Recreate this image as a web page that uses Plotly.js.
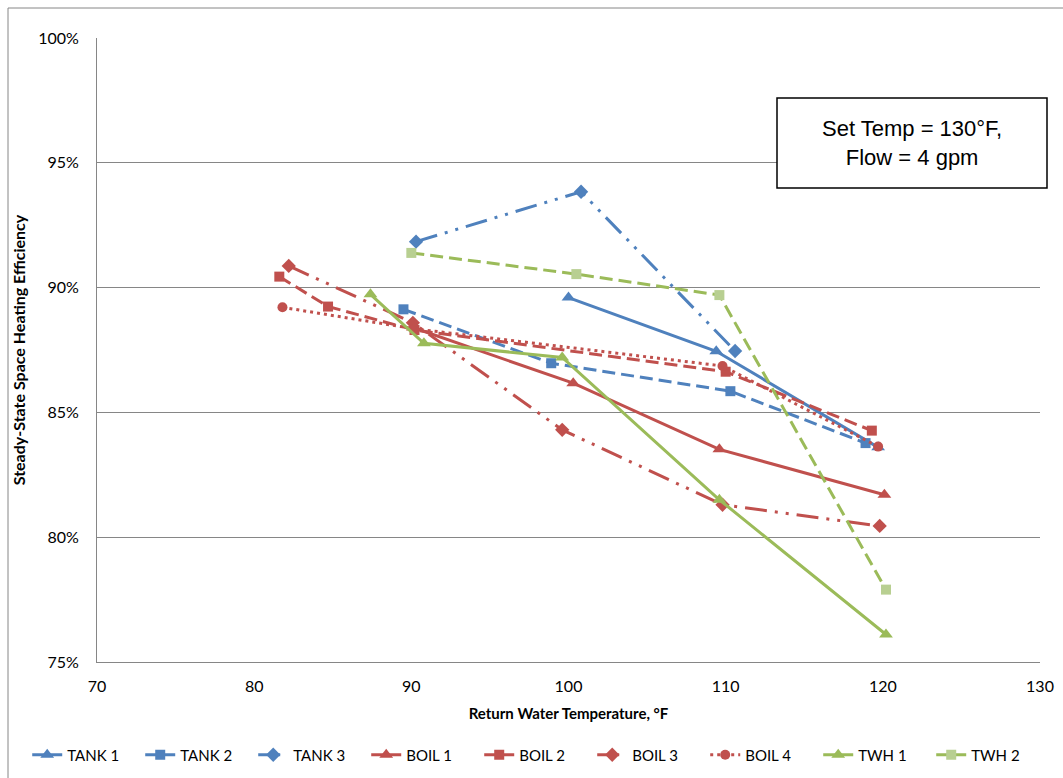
<!DOCTYPE html>
<html>
<head>
<meta charset="utf-8">
<script src="https://cdn.plot.ly/plotly-3.0.1.min.js"></script>
<style>
  html, body { margin: 0; padding: 0; background: #fff; }
  #chart { width: 1063px; height: 778px; }
</style>
</head>
<body>
<div id="chart"></div>
<script>
// ── Data ─────────────────────────────────────────────────────────────
const tank1X = [100.0, 109.4, 119.7];
const tank1Y = [89.6, 87.45, 83.6];

const tank2X = [89.5, 98.9, 110.3, 118.9];
const tank2Y = [89.13, 86.97, 85.85, 83.77];

const tank3X = [90.3, 100.8, 110.6];
const tank3Y = [91.84, 93.84, 87.46];

const boil1X = [90.1, 100.3, 109.6, 120.1];
const boil1Y = [88.4, 86.17, 83.52, 81.7];

const boil2X = [81.6, 84.7, 90.2, 110.0, 119.3];
const boil2Y = [90.44, 89.24, 88.3, 86.63, 84.27];

const boil3X = [82.2, 90.1, 99.6, 109.8, 119.8];
const boil3Y = [90.87, 88.59, 84.3, 81.3, 80.45];

const boil4X = [81.8, 90.2, 109.8, 119.7];
const boil4Y = [89.21, 88.35, 86.86, 83.63];

const twh1X = [87.4, 90.8, 99.6, 109.6, 120.2];
const twh1Y = [89.73, 87.77, 87.2, 81.5, 76.1];

const twh2X = [90.0, 100.5, 109.6, 120.2];
const twh2Y = [91.39, 90.54, 89.7, 77.9];

const xTicks = [70, 80, 90, 100, 110, 120, 130];
const yTicks = [75, 80, 85, 90, 95, 100];

// ── Styling ──────────────────────────────────────────────────────────
const BLUE = '#4f81bd';
const RED = '#c0504d';
const GREEN = '#9bbb59';
const LIGHT_GREEN = '#b8cf91';
const FONT = 'Lato, "Open Sans", sans-serif';

const DASH = '13px,6px';
const DASH_DOT_DOT = '22px,8px,3px,8px,3px,8px';
const DOT = '3px,4px';

const MARKER_SIZE = { 'triangle-up': 12, 'square': 10, 'diamond': 11, 'circle': 10 };

function series(name, x, y, color, dash, symbol, markerColor) {
    return {
        x: x,
        y: y,
        name: name,
        type: 'scatter',
        mode: 'lines+markers',
        line: { color: color, width: 3, dash: dash },
        marker: { symbol: symbol, size: MARKER_SIZE[symbol], color: markerColor || color },
        hovertemplate: name + ': %{x}, %{y:.1f}%<extra></extra>'
    };
}

const traces = [
    series('TANK 1', tank1X, tank1Y, BLUE, 'solid', 'triangle-up'),
    series('TANK 2', tank2X, tank2Y, BLUE, DASH, 'square'),
    series('TANK 3', tank3X, tank3Y, BLUE, DASH_DOT_DOT, 'diamond'),
    series('BOIL 1', boil1X, boil1Y, RED, 'solid', 'triangle-up'),
    series('BOIL 2', boil2X, boil2Y, RED, DASH, 'square'),
    series('BOIL 3', boil3X, boil3Y, RED, DASH_DOT_DOT, 'diamond'),
    series('BOIL 4', boil4X, boil4Y, RED, DOT, 'circle'),
    series('TWH 1', twh1X, twh1Y, GREEN, 'solid', 'triangle-up'),
    series('TWH 2', twh2X, twh2Y, GREEN, DASH, 'square', LIGHT_GREEN)
];

const layout = {
    width: 1063,
    height: 778,
    margin: { l: 97, r: 23, t: 38, b: 116, autoexpand: false },
    paper_bgcolor: '#ffffff',
    plot_bgcolor: '#ffffff',
    font: { family: FONT, size: 16, color: '#000' },
    xaxis: {
        range: [70, 130],
        tickmode: 'array',
        tickvals: xTicks,
        ticktext: xTicks.map(String),
        showgrid: false,
        zeroline: false,
        showline: true,
        linecolor: '#868686',
        linewidth: 1,
        ticks: '',
        ticklabelstandoff: 10,
        tickfont: { family: FONT, size: 16 },
        automargin: false,
        title: {
            text: '<b>Return Water Temperature, °F</b>',
            font: { family: FONT, size: 15 },
            standoff: 14
        }
    },
    yaxis: {
        range: [75, 100],
        tickmode: 'array',
        tickvals: yTicks,
        ticktext: yTicks.map(v => v + '%'),
        showgrid: true,
        gridcolor: '#868686',
        gridwidth: 1,
        zeroline: false,
        showline: true,
        linecolor: '#868686',
        linewidth: 1,
        ticks: '',
        ticklabelstandoff: 14,
        tickfont: { family: FONT, size: 16 },
        automargin: false,
        title: {
            text: '<b>Steady-State Space Heating Efficiency</b>',
            font: { family: FONT, size: 16 },
            standoff: 8
        }
    },
    showlegend: true,
    legend: {
        orientation: 'h',
        x: -0.074,
        xanchor: 'left',
        y: -0.149,
        yanchor: 'middle',
        entrywidth: 68,
        entrywidthmode: 'pixels',
        font: { family: FONT, size: 15 },
        bgcolor: 'rgba(0,0,0,0)',
        traceorder: 'normal'
    },
    shapes: [
        // outer chart border
        {
            type: 'rect', xref: 'paper', yref: 'paper',
            x0: -89 / 943, x1: 1.1, y0: -0.3, y1: 1 + 30 / 624,
            line: { color: '#868686', width: 1 },
            fillcolor: 'rgba(0,0,0,0)',
            layer: 'below'
        },
        // annotation box
        {
            type: 'rect', xref: 'paper', yref: 'paper',
            x0: (777 - 97) / 943, x1: (1047 - 97) / 943,
            y0: (662 - 188) / 624, y1: (662 - 98) / 624,
            line: { color: '#000', width: 1.5 },
            fillcolor: '#ffffff',
            layer: 'above'
        }
    ],
    annotations: [
        {
            xref: 'paper', yref: 'paper',
            x: (912 - 97) / 943, y: (662 - 143) / 624,
            xanchor: 'center', yanchor: 'middle',
            text: 'Set Temp = 130°F,<br>Flow = 4 gpm',
            showarrow: false,
            align: 'center',
            font: { family: '"Liberation Sans", Arial, sans-serif', size: 22, color: '#000' }
        }
    ]
};

Plotly.newPlot('chart', traces, layout, { displayModeBar: false, staticPlot: true });
</script>
</body>
</html>
